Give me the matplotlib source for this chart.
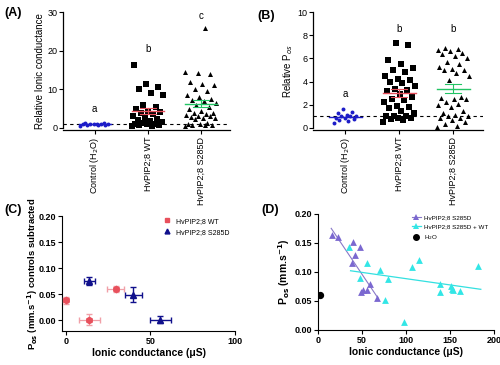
import numpy as np
import matplotlib
matplotlib.use("Agg")
import matplotlib.pyplot as plt
from matplotlib.lines import Line2D

plt.rcParams['font.family'] = ['Liberation Sans', 'DejaVu Sans']

# ---------------- data ----------------
groups = ["Control (H$_2$O)", "HvPIP2;8 WT", "HvPIP2;8 S285D"]

a_control = [0.6, 0.7, 0.8, 0.9, 0.9, 1.0, 1.0, 1.1, 1.1, 1.2, 1.3, 0.8]
a_wt = [16.3, 11.4, 10.5, 10.2, 9.0, 8.5, 6.0, 5.3, 4.8, 4.5, 4.2, 3.8, 3.5,
        3.0, 2.5, 2.0, 1.8, 1.5, 1.2, 1.0, 1.0, 0.9, 0.8, 0.7, 0.6, 0.5, 2.2]
a_s285d = [25.8, 14.5, 14.3, 14.0, 12.0, 11.5, 11.0, 10.0, 9.5, 8.5, 8.0, 7.5,
           7.2, 7.0, 6.5, 6.0, 5.5, 5.0, 4.5, 4.0, 3.8, 3.5, 3.3, 3.0, 3.0,
           2.8, 2.5, 2.5, 2.2, 1.2, 1.0, 1.0, 0.8, 0.8, 0.7, 0.6]
a_letters = ["a", "b", "c"]
a_letter_y = [5.0, 20.5, 29.0]

b_control = [1.6, 1.4, 1.3, 1.1, 1.0, 1.0, 0.9, 0.9, 0.8, 0.7, 0.6, 0.4, 1.0]
b_wt = [7.3, 7.2, 5.9, 5.5, 5.2, 5.0, 4.8, 4.5, 4.2, 4.1, 4.0, 3.9, 3.6, 3.4,
        3.3, 3.2, 2.9, 2.7, 2.5, 2.4, 2.2, 1.9, 1.8, 1.7, 1.5, 1.3, 1.0, 1.0,
        0.9, 0.9, 0.8, 0.7, 0.5, 1.0]
b_s285d = [6.9, 6.8, 6.7, 6.6, 6.5, 6.4, 6.2, 6.0, 5.7, 5.5, 5.3, 5.1, 5.0,
           5.0, 4.7, 4.5, 4.1, 2.7, 2.6, 2.5, 2.5, 2.2, 2.1, 2.0, 1.8, 1.5,
           1.3, 1.1, 1.0, 1.0, 0.9, 0.9, 0.7, 0.5, 0.3, 0.2, 0.1]
b_letters = ["a", "b", "b"]
b_letter_y = [2.9, 8.5, 8.5]

c_wt_x = [0.0, 14.0, 29.4]
c_wt_y = [0.038, 0.001, 0.060]
c_wt_xerr = [1.5, 6.4, 5.0]
c_wt_yerr = [0.007, 0.010, 0.006]
c_sd_x = [14.0, 39.8, 55.9]
c_sd_y = [0.075, 0.049, 0.001]
c_sd_xerr = [3.2, 5.0, 6.0]
c_sd_yerr = [0.007, 0.015, 0.006]

d_sd_x = [15.8, 22.3, 39.6, 42.3, 47.9, 38.1, 48.7, 51.7, 55.5, 59.2, 66.8]
d_sd_y = [0.163, 0.161, 0.152, 0.130, 0.143, 0.116, 0.066, 0.068, 0.068, 0.080, 0.055]
d_all_x = [35.5, 55.5, 47.2, 70.6, 79.2, 75.8, 107, 115, 98, 139, 139, 151.7,
           152.5, 153.6, 161, 182]
d_all_y = [0.143, 0.116, 0.090, 0.103, 0.088, 0.052, 0.108, 0.121, 0.014,
           0.080, 0.066, 0.076, 0.071, 0.068, 0.067, 0.111]
d_h2o_x = [2.0]
d_h2o_y = [0.061]
# regression lines (slope, intercept, x-from, x-to)
d_fit_sd = [-0.00226, 0.209, 15.0, 68.0]
d_fit_all = [-0.000216, 0.110, 37.0, 185.0]

BLUE = "#1c1cc8"
RED = "#e8505c"
GREEN = "#22c464"


def spread(vals, width=0.3):
    """Deterministic low-discrepancy horizontal spread of points."""
    vals = np.asarray(vals, float)
    order = np.argsort(vals)
    xs = np.zeros(len(vals))
    for k, i in enumerate(order):
        xs[i] = (((k * 0.6180339887) % 1.0) - 0.5) * 2 * width
    return xs


fig = plt.figure(figsize=(5.0, 3.65), dpi=100)


def dot_panel(ax, datasets, ymax, widths, letters, letter_y, yticks, ylabel, dashed_y=1.0):
    markers = ["o", "s", "^"]
    colors = [BLUE, "black", "black"]
    mcolors = [BLUE, RED, GREEN]
    sizes = [8, 14, 13]
    for i, d in enumerate(datasets):
        d = np.asarray(d)
        xs = i + spread(d, widths[i])
        ax.scatter(xs, d, marker=markers[i], s=sizes[i], color=colors[i],
                   linewidths=0, zorder=3)
        m = d.mean()
        se = d.std(ddof=1) / np.sqrt(len(d))
        ax.plot([i - 0.3, i + 0.3], [m, m], color=mcolors[i], lw=1.0, zorder=4)
        if i > 0:
            ax.plot([i - 0.15, i + 0.15], [m - se, m - se], color=mcolors[i], lw=0.8, zorder=4)
            ax.plot([i - 0.15, i + 0.15], [m + se, m + se], color=mcolors[i], lw=0.8, zorder=4)
            ax.plot([i, i], [m - se, m + se], color=mcolors[i], lw=0.8, zorder=4)
        ax.text(i, letter_y[i], letters[i], ha="center", va="center", fontsize=7)
    ax.axhline(dashed_y, color="black", ls=(0, (3, 3)), lw=0.8, zorder=2)
    ax.set_xlim(-0.6, 2.55)
    ax.set_ylim(-ymax * 0.017, ymax)
    ax.set_yticks(yticks)
    ax.set_xticks(range(3))
    ax.set_xticklabels(groups, rotation=90, fontsize=6.5)
    ax.tick_params(axis="y", labelsize=6.5, length=3, width=0.8, pad=1)
    ax.tick_params(axis="x", length=3, width=0.8, pad=2)
    ax.spines[["top", "right"]].set_visible(False)
    ax.spines["left"].set_bounds(0, ymax)
    for s in ["left", "bottom"]:
        ax.spines[s].set_linewidth(0.9)
    ax.set_ylabel(ylabel, fontsize=7, labelpad=2)


axA = fig.add_axes([0.126, 0.644, 0.334, 0.323])
dot_panel(axA, [a_control, a_wt, a_s285d], 30, [0.28, 0.3, 0.3], a_letters,
          a_letter_y, [0, 10, 20, 30], "Relative Ionic conductance")
axB = fig.add_axes([0.626, 0.644, 0.34, 0.323])
dot_panel(axB, [b_control, b_wt, b_s285d], 10, [0.22, 0.3, 0.3], b_letters,
          b_letter_y, [0, 2, 4, 6, 8, 10], "Relative P$_{os}$")

fig.text(0.008, 0.965, "(A)", fontsize=9, fontweight="bold", va="center")
fig.text(0.515, 0.955, "(B)", fontsize=9, fontweight="bold", va="center")
fig.text(0.008, 0.425, "(C)", fontsize=9, fontweight="bold", va="center")
fig.text(0.522, 0.425, "(D)", fontsize=9, fontweight="bold", va="center")

# ---------------- panel C ----------------
axC = fig.add_axes([0.124, 0.093, 0.348, 0.315])
axC.errorbar(c_wt_x, c_wt_y, xerr=c_wt_xerr, yerr=c_wt_yerr, fmt="h", ms=4.5,
             color=RED, ecolor="#f0a0a8", elinewidth=0.9, capsize=2, zorder=3)
axC.errorbar(c_sd_x, c_sd_y, xerr=c_sd_xerr, yerr=c_sd_yerr, fmt="^", ms=4,
             color="#10108c", ecolor="#10108c", elinewidth=1.0, capsize=2, zorder=3)
axC.set_xlim(-2.2, 100.5)
axC.set_ylim(-0.021, 0.20)
axC.set_xticks([0, 50, 100])
axC.set_yticks([0.0, 0.05, 0.10, 0.15, 0.20])
axC.set_yticklabels(["0.00", "0.05", "0.10", "0.15", "0.20"])
axC.spines[["top", "right"]].set_visible(False)
axC.spines["left"].set_bounds(-0.021, 0.20)
axC.spines["bottom"].set_bounds(-2.2, 100)
axC.tick_params(labelsize=6.5, length=3, width=0.8, pad=1)
for lab in axC.get_xticklabels() + axC.get_yticklabels():
    lab.set_fontweight("bold")
axC.set_xlabel("Ionic conductance (\u03bcS)", fontsize=7.5, fontweight="bold", labelpad=2)
axC.set_ylabel("P$_{\\mathbf{os}}$ (mm.s$^{\\mathbf{-1}}$) controls subtracted",
               fontsize=6.8, fontweight="bold")
axC.yaxis.set_label_coords(-0.125, 0.5)
handlesC = [Line2D([], [], ls="none", marker="s", ms=3.5, color=RED),
            Line2D([], [], ls="none", marker="^", ms=3.5, color="#10108c")]
axC.legend(handlesC, ["HvPIP2;8 WT", "HvPIP2;8 S285D"], loc="upper right",
           bbox_to_anchor=(1.0, 1.04), frameon=False, fontsize=5,
           handletextpad=0.8, labelspacing=0.6, handlelength=1.0)

# ---------------- panel D ----------------
axD = fig.add_axes([0.636, 0.096, 0.352, 0.318])
axD.scatter(d_sd_x, d_sd_y, marker="^", s=24, color="#7b68d0", linewidths=0,
            zorder=3)
axD.scatter(d_all_x, d_all_y, marker="^", s=24, color="#33e6e6", linewidths=0,
            zorder=3)
axD.scatter(d_h2o_x, d_h2o_y, marker="o", s=18, color="black", zorder=3)
xs1 = np.array(d_fit_sd[2:])
axD.plot(xs1, d_fit_sd[0] * xs1 + d_fit_sd[1], color="#8878c8", lw=0.8, zorder=2)
xs2 = np.array(d_fit_all[2:])
axD.plot(xs2, d_fit_all[0] * xs2 + d_fit_all[1], color="#33e0e0", lw=0.9, zorder=2)
axD.set_xlim(0, 200)
axD.set_ylim(0, 0.20)
axD.set_xticks([0, 50, 100, 150, 200])
axD.set_yticks([0.0, 0.05, 0.10, 0.15, 0.20])
axD.set_yticklabels(["0.00", "0.05", "0.10", "0.15", "0.20"])
axD.spines[["top", "right"]].set_visible(False)
axD.tick_params(labelsize=6.5, length=3, width=0.8, pad=1)
for lab in axD.get_xticklabels() + axD.get_yticklabels():
    lab.set_fontweight("bold")
axD.set_xlabel("Ionic conductance (\u03bcS)", fontsize=7.5, fontweight="bold", labelpad=2)
axD.set_ylabel("P$_{\\mathbf{os}}$ (mm.s$^{\\mathbf{-1}}$)", fontsize=7.5,
               fontweight="bold", labelpad=2)
handlesD = [Line2D([], [], color="#8878c8", lw=0.8, marker="^", ms=4.5,
                   markerfacecolor="#7b68d0", markeredgewidth=0),
            Line2D([], [], color="#33e0e0", lw=0.9, marker="^", ms=4.5,
                   markerfacecolor="#33e6e6", markeredgewidth=0),
            Line2D([], [], ls="none", marker="o", ms=4, color="black")]
axD.legend(handlesD, ["HvPIP2;8 S285D", "HvPIP2;8 S285D + WT", "H$_2$O"],
           loc="upper right", bbox_to_anchor=(1.0, 1.04), frameon=False,
           fontsize=4.5, handletextpad=0.5, labelspacing=0.6, handlelength=1.5)

fig.savefig("out.png", dpi=100)
